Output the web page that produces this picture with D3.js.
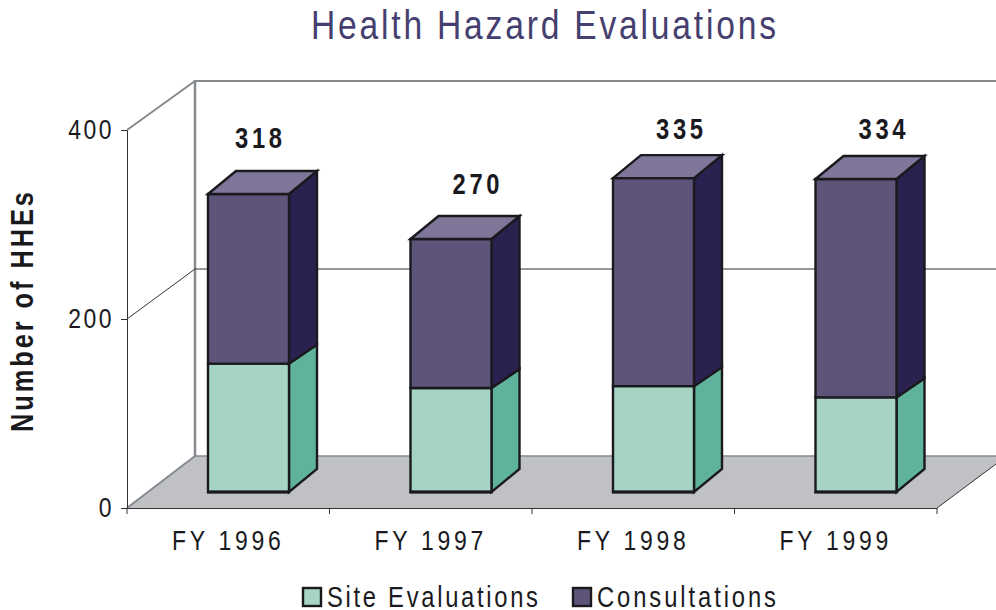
<!DOCTYPE html>
<html><head><meta charset="utf-8">
<script src="https://cdnjs.cloudflare.com/ajax/libs/d3/7.8.5/d3.min.js"></script>
<style>html,body{margin:0;background:#fff}svg{display:block}text{font-family:"Liberation Sans",Arial,sans-serif}</style>
</head><body><svg id="c" width="996" height="610"></svg>
<script>
const categories=["FY 1996","FY 1997","FY 1998","FY 1999"];
const siteEvaluations=[137,111,113,101];
const consultations=[181,159,222,233];
const totals=[318,270,335,334];
const yTicks=[0,200,400];
const seriesNames=["Site Evaluations","Consultations"];

const svg=d3.select("#c");
const x=d3.scaleBand().domain(categories).range([127,937]);
const y=d3.scaleLinear().domain([0,400]).range([508,130]);
const yBar=d3.scaleLinear().domain([0,400]).range([492,117.2]);
const dy=-50,bdx=28,bdy=-23,midDy=-19,narrow=0.82;
const pts=a=>a.map(p=>p.join(",")).join(" ");
const grey="#868a8e",ink="#1a1a1e";
const line=(x1,y1,x2,y2,c,w)=>svg.append("line").attr("x1",x1).attr("y1",y1).attr("x2",x2).attr("y2",y2).attr("stroke",c).attr("stroke-width",w);
const fit=(sel,width)=>{sel.attr("letter-spacing",0);const n=sel.text().length,nat=sel.node().getComputedTextLength();
 sel.attr("letter-spacing",(width/narrow-nat)/(n-1));return sel;};
const label=(px,py,str,size,width,fill,bold,rot)=>{
 const g=svg.append("g").attr("transform",`translate(${px},${py})${rot?" rotate(-90)":""} scale(${narrow},1)`);
 const t=g.append("text").attr("font-size",size).attr("fill",fill).attr("font-weight",bold?"bold":"normal").text(str);
 return fit(t,width);};

svg.append("polygon").attr("points",pts([[127,508],[937,508],[996,464],[996,456],[195,456]])).attr("fill","#c0c1c5");
line(195,456,996,456,grey,1.5);
line(937,508,996,464,"#333",1);
line(127,508,195,456,grey,2);
line(195,y(400)+dy,195,456,grey,2.5);
line(195,y(400)+dy+1,996,y(400)+dy+1,grey,2);
line(127,y(400),195,y(400)+dy+1,grey,2);
line(127,y(200),195,y(200)+dy,"#333",1);
line(195,y(200)+dy,996,y(200)+dy,"#333",1);

const yAxis=svg.append("g").attr("transform","translate(127,0)").call(d3.axisLeft(y).tickValues(yTicks).tickSize(6).tickPadding(0));
const xAxis=svg.append("g").attr("transform","translate(0,508)").call(d3.axisBottom(x).tickSize(0).tickPadding(22));
xAxis.selectAll(".tick").append("line").attr("x1",x.bandwidth()/-2).attr("x2",x.bandwidth()/-2).attr("y2",6);
xAxis.append("line").attr("x1",937).attr("x2",937).attr("y2",6);
[yAxis,xAxis].forEach(a=>{a.selectAll(".domain").attr("stroke","#333");a.selectAll("line").attr("stroke","#333");
 a.selectAll("text").attr("font-size",28).attr("fill",ink).attr("font-family","Liberation Sans")
  .attr("transform",`scale(${narrow},1)`);});
yAxis.selectAll("text").attr("x",-13/narrow).attr("letter-spacing",3);
xAxis.selectAll("text").attr("x",0).attr("letter-spacing",4.6);

const drawBar=(g,left,w,y0,yMid,yTop)=>{
 const add=(p,c,sw)=>g.append("polygon").attr("points",pts(p)).attr("fill",c).attr("stroke",ink).attr("stroke-width",sw||2.4);
 const r=left+w,rb=r+bdx;
 add([[r,yMid],[rb,yMid+midDy],[rb,y0+bdy],[r,y0]],"#5fb29b");
 add([[left,yMid],[r,yMid],[r,y0],[left,y0]],"#a5d3c4");
 add([[r,yTop],[rb,yTop+bdy],[rb,yMid+midDy],[r,yMid]],"#2a2150");
 add([[left,yTop],[r,yTop],[r,yMid],[left,yMid]],"#5e5479");
 add([[left,yTop],[left+bdx,yTop+bdy],[rb,yTop+bdy],[r,yTop]],"#7f7699");
 g.append("line").attr("x1",left-1).attr("x2",r+1).attr("y1",y0).attr("y2",y0).attr("stroke",ink).attr("stroke-width",3.2);
};
const labelDx=[10,25,26,26],labelDy=[-46,-45,-39,-40];
categories.forEach((c,i)=>{
 const g=svg.append("g");
 const w=x.bandwidth()*0.4,left=x(c)+x.bandwidth()*0.4;
 drawBar(g,left,w,yBar(0),yBar(siteEvaluations[i]),yBar(siteEvaluations[i]+consultations[i]));
 label(left+w/2+labelDx[i]-23.5,yBar(totals[i])+labelDy[i],String(totals[i]),29,47,ink,true);
});

label(311,39,"Health Hazard Evaluations",41,465,"#453f70");
label(33,432,"Number of HHEs",31,240,ink,true,true);

const legX=[302,572],legW=[211,179],legFill=["#a5d3c4","#5e5479"];
seriesNames.forEach((n,i)=>{
 svg.append("rect").attr("x",legX[i]+1).attr("y",588).attr("width",18).attr("height",18).attr("fill",legFill[i]).attr("stroke",ink).attr("stroke-width",2.4);
 label(legX[i]+25,607,n,29,legW[i],ink);
});
</script></body></html>
